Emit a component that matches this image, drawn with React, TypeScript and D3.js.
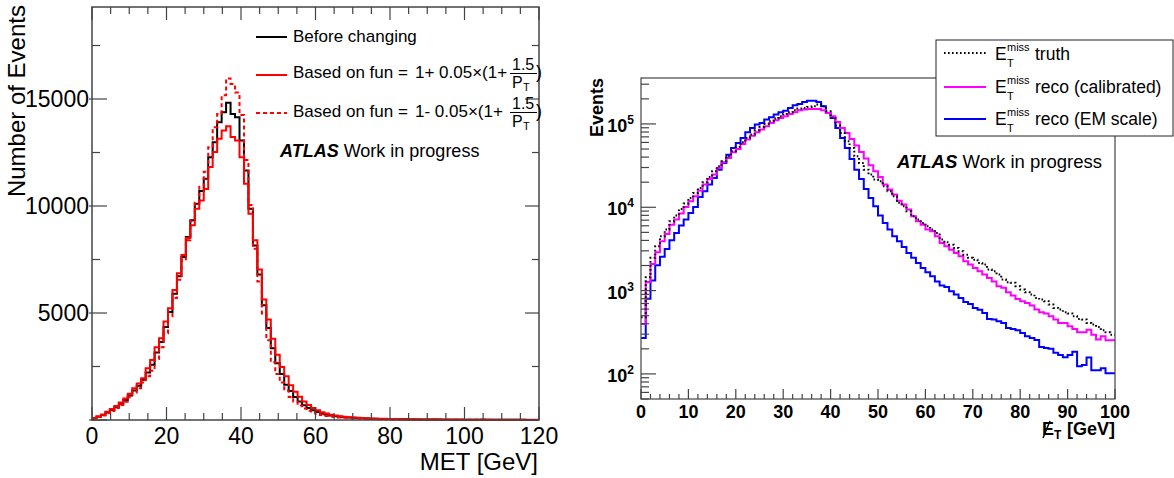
import React from "react";
import * as d3 from "d3";

const FONT = "'Liberation Sans', Arial, Helvetica, sans-serif";

// ---------- Left panel data (MET histogram, 100 bins of 1.2 GeV from 0 to 120) ----------
const metBinWidth = 1.2;
const beforeChanging = [
  80, 155, 235, 350, 470, 610, 760, 930, 1150, 1380,
  1600, 1880, 2220, 2580, 3150, 3650, 4350, 5050, 5900, 6720,
  7620, 8550, 9330, 10100, 10700, 11270, 12280, 12980, 13920, 14380,
  14820, 14300, 14150, 13060, 11660, 9870, 8150, 6800, 5365, 4300,
  3350, 2650, 2150, 1650, 1350, 1080, 860, 690, 560, 450,
  370, 305, 255, 215, 180, 155, 133, 115, 100, 88,
  78, 69, 62, 56, 50, 46, 42, 38, 35, 32,
  30, 28, 26, 24, 22, 21, 19, 18, 17, 16,
  15, 14, 13, 12, 12, 11, 10, 10, 9, 9,
  8, 8, 7, 7, 6, 6, 6, 5, 5, 5,
];
const funPlus = [
  90, 170, 260, 380, 510, 650, 820, 1000, 1230, 1480,
  1700, 1950, 2415, 2800, 3400, 3820, 4600, 5220, 6080, 6860,
  7710, 8500, 9100, 9870, 10260, 10800, 11820, 12520, 13140, 13530,
  13730, 13220, 13060, 12280, 11040, 9640, 8400, 7030, 5630, 4700,
  3800, 3050, 2480, 2050, 1620, 1320, 1090, 870, 700, 560,
  450, 365, 300, 250, 210, 178, 152, 132, 115, 101,
  89, 79, 71, 64, 58, 53, 48, 44, 41, 38,
  35, 33, 38, 29, 27, 25, 32, 23, 22, 21,
  20, 19, 18, 17, 16, 15, 14, 18, 13, 12,
  12, 11, 11, 10, 10, 9, 9, 8, 8, 8,
];
const funMinus = [
  70, 135, 205, 310, 420, 560, 700, 850, 1060, 1270,
  1480, 1750, 2050, 2300, 2850, 3400, 4050, 4850, 5700, 6550,
  7450, 8400, 9300, 10150, 10900, 11600, 12750, 13680, 14300, 15180,
  15960, 15700, 15300, 14250, 12150, 10050, 8000, 6470, 4980, 3730,
  2700, 2150, 1750, 1380, 1080, 860, 680, 540, 430, 345,
  280, 230, 190, 160, 135, 115, 100, 88, 77, 68,
  60, 53, 47, 42, 38, 34, 31, 28, 25, 23,
  21, 19, 17, 16, 15, 14, 13, 12, 11, 10,
  9, 9, 8, 8, 7, 7, 6, 6, 6, 5,
  5, 5, 4, 4, 4, 4, 3, 3, 3, 3,
];
const leftXTickLabels = [0, 20, 40, 60, 80, 100, 120];
const leftYTickLabels = [5000, 10000, 15000];

// ---------- Right panel data (ETmiss, 100 bins of 1 GeV from 0 to 100) ----------
const etBinWidth = 1;
const truth = [
  480, 1450, 2470, 3400, 4490, 5400, 6790, 7940, 9550, 11070,
  12940, 14860, 17060, 19950, 23100, 27000, 31000, 35600, 40900, 47000,
  53000, 60300, 67900, 74500, 84000, 92000, 100000, 107600, 115900, 123600,
  131800, 138000, 145900, 152800, 155600, 160000, 163000, 170600, 163000, 141900,
  118000, 95500, 78000, 61900, 51500, 40900, 34000, 28300, 24700, 21500,
  20500, 17900, 15600, 13550, 11300, 10300, 8950, 7800, 7110, 6490,
  5920, 5400, 4920, 4090, 3800, 3560, 3250, 2960, 2700, 2470,
  2350, 2150, 2050, 1790, 1710, 1560, 1360, 1260, 1240, 1130,
  1030, 955, 895, 817, 780, 745, 680, 620, 592, 550,
  530, 492, 457, 449, 409, 391, 366, 334, 316, 296,
];
const recoCalibrated = [
  398, 1270, 2090, 2880, 3910, 4790, 6190, 7110, 8390, 10090,
  11800, 13550, 15850, 18700, 21900, 24700, 29600, 34700, 39100, 45700,
  50100, 57500, 64900, 72400, 79400, 85500, 93700, 102800, 110700, 118000,
  123600, 131800, 138000, 145900, 148600, 151400, 151400, 151400, 145900, 135500,
  123600, 105700, 89500, 78000, 66000, 55000, 46000, 38500, 32000, 27000,
  23100, 18700, 16300, 14200, 12000, 10800, 9380, 7800, 6790, 6190,
  5400, 5150, 4490, 3730, 3400, 3100, 2830, 2580, 2250, 2050,
  1870, 1710, 1560, 1420, 1290, 1130, 1080, 955, 871, 794,
  745, 711, 661, 592, 550, 530, 492, 449, 409, 409,
  373, 347, 316, 316, 340, 296, 258, 283, 254, 254,
];
const recoEM = [
  270, 800, 1320, 2010, 2540, 3160, 4020, 4920, 6030, 7110,
  8550, 10090, 13300, 15560, 18700, 22500, 28300, 34000, 42800, 51500,
  59200, 67900, 79400, 89500, 98200, 102800, 112700, 120000, 129400, 138000,
  144500, 155600, 167500, 173800, 183700, 190500, 190500, 183700, 163000, 135500,
  118000, 89500, 67900, 51500, 38000, 28300, 21900, 16600, 12900, 10300,
  7940, 6490, 5400, 4490, 3910, 3340, 2830, 2470, 2150, 1870,
  1660, 1490, 1290, 1150, 1105, 980, 895, 817, 731, 692,
  619, 591, 540, 457, 449, 428, 409, 356, 347, 334,
  310, 283, 270, 255, 211, 205, 200, 179, 169, 158,
  169, 185, 124, 128, 157, 111, 111, 117, 102, 102,
];
const rightXTickLabels = [0, 10, 20, 30, 40, 50, 60, 70, 80, 90, 100];
const rightYDecades = [2, 3, 4, 5];

function histPath(
  values: number[],
  binW: number,
  x: (v: number) => number,
  y: (v: number) => number
): string {
  const pts: [number, number][] = values.map((v, i) => [i * binW, v]);
  pts.push([values.length * binW, values[values.length - 1]]);
  return (
    d3
      .line<[number, number]>()
      .x((d) => x(d[0]))
      .y((d) => y(d[1]))
      .curve(d3.curveStepAfter)(pts) || ""
  );
}

export default function App() {
  const xL = d3.scaleLinear().domain([0, 120]).range([92, 539]);
  const yL = d3.scaleLinear().domain([0, 19300]).range([420, 7]);
  const xR = d3.scaleLinear().domain([0, 100]).range([641, 1115]);
  const yR = d3.scaleLog().domain([50, 356000]).range([399, 78]).clamp(true);

  const axisColor = "#444";

  const leftXTicks = d3.range(0, 121, 5);
  const leftYTicks = d3.range(0, 19300, 2500);
  const rightXTicks = d3.range(0, 101, 2);
  const rightYTicks: { v: number; major: boolean }[] = [];
  for (let e = 1; e <= 5; e++) {
    for (let m = 1; m <= 9; m++) {
      const v = m * Math.pow(10, e);
      if (v >= 50 && v <= 356000) rightYTicks.push({ v, major: m === 1 });
    }
  }

  return (
    <svg
      width={1174}
      height={478}
      style={{ position: "absolute", left: 0, top: 0, background: "#fff" }}
      fontFamily={FONT}
    >
      <rect x={0} y={0} width={1174} height={478} fill="#fff" />

      {/* ================= LEFT PANEL ================= */}
      <g>
        <path d={histPath(beforeChanging, metBinWidth, xL, yL)} fill="none" stroke="#000" strokeWidth={2} />
        <path d={histPath(funPlus, metBinWidth, xL, yL)} fill="none" stroke="#ff0000" strokeWidth={2} />
        <path
          d={histPath(funMinus, metBinWidth, xL, yL)}
          fill="none"
          stroke="#ff0000"
          strokeWidth={2}
          strokeDasharray="4,3"
        />

        <rect
          x={xL(0)}
          y={yL.range()[1]}
          width={xL(120) - xL(0)}
          height={yL(0) - yL.range()[1]}
          fill="none"
          stroke={axisColor}
          strokeWidth={1.5}
        />
        {leftXTicks.map((t) => {
          const major = t % 20 === 0;
          const len = major ? 13 : 7;
          return (
            <g key={"lxt" + t}>
              <line x1={xL(t)} x2={xL(t)} y1={420} y2={420 - len} stroke={axisColor} strokeWidth={1.2} />
              <line x1={xL(t)} x2={xL(t)} y1={7} y2={7 + len} stroke={axisColor} strokeWidth={1.2} />
            </g>
          );
        })}
        {leftYTicks.map((t) => {
          const major = t % 5000 === 0;
          return (
            <g key={"lyt" + t}>
              <line
                x1={major ? 89 : 92}
                x2={major ? 107 : 100}
                y1={yL(t)}
                y2={yL(t)}
                stroke={axisColor}
                strokeWidth={1.2}
              />
              <line x1={539} x2={major ? 525 : 532} y1={yL(t)} y2={yL(t)} stroke={axisColor} strokeWidth={1.2} />
            </g>
          );
        })}
        {leftXTickLabels.map((t) => (
          <text key={"lxl" + t} x={xL(t)} y={444} fontSize={23} textAnchor="middle" fill="#000">
            {t}
          </text>
        ))}
        {leftYTickLabels.map((t) => (
          <text key={"lyl" + t} x={89} y={yL(t) + 8} fontSize={23} textAnchor="end" fill="#000">
            {t}
          </text>
        ))}
        <text x={538} y={470} fontSize={24} textAnchor="end" fill="#000">
          MET [GeV]
        </text>
        <text transform="translate(25,5) rotate(-90)" fontSize={24} textAnchor="end" fill="#000">
          Number of Events
        </text>

        {/* legend */}
        <line x1={256} x2={287} y1={37} y2={37} stroke="#000" strokeWidth={2} />
        <text x={293} y={42} fontSize={17} fill="#000">
          Before changing
        </text>

        <line x1={256} x2={287} y1={75} y2={75} stroke="#ff0000" strokeWidth={2} />
        <text y={78} fontSize={17} fill="#000">
          <tspan x={293}>Based on fun =</tspan>
          <tspan x={415}>1+ 0.05×(1+</tspan>
        </text>
        <text x={512} y={70} fontSize={16} fill="#000">1.5</text>
        <line x1={510} x2={537} y1={73.5} y2={73.5} stroke="#000" strokeWidth={1} />
        <text x={512} y={88} fontSize={16} fill="#000">P</text>
        <text x={523} y={91} fontSize={11} fill="#000">T</text>
        <text x={536} y={78} fontSize={18} fill="#000">)</text>

        <line x1={256} x2={287} y1={113} y2={113} stroke="#ff0000" strokeWidth={2} strokeDasharray="4,3" />
        <text y={117} fontSize={17} fill="#000">
          <tspan x={293}>Based on fun =</tspan>
          <tspan x={415}>1- 0.05×(1+</tspan>
        </text>
        <text x={512} y={109} fontSize={16} fill="#000">1.5</text>
        <line x1={510} x2={537} y1={112.5} y2={112.5} stroke="#000" strokeWidth={1} />
        <text x={512} y={127} fontSize={16} fill="#000">P</text>
        <text x={523} y={130} fontSize={11} fill="#000">T</text>
        <text x={536} y={117} fontSize={18} fill="#000">)</text>

        <text x={280} y={157} fontSize={18} fill="#000">
          <tspan fontWeight="bold" fontStyle="italic">ATLAS</tspan>
          <tspan> Work in progress</tspan>
        </text>
      </g>

      {/* ================= RIGHT PANEL ================= */}
      <g>
        <path d={histPath(recoEM, etBinWidth, xR, yR)} fill="none" stroke="#0000ff" strokeWidth={2} />
        <path d={histPath(recoCalibrated, etBinWidth, xR, yR)} fill="none" stroke="#ff00ff" strokeWidth={2} />
        <path
          d={histPath(truth, etBinWidth, xR, yR)}
          fill="none"
          stroke="#000"
          strokeWidth={2}
          strokeDasharray="1.6,2.4"
        />

        <rect
          x={xR(0)}
          y={78}
          width={xR(100) - xR(0)}
          height={399 - 78}
          fill="none"
          stroke={axisColor}
          strokeWidth={1.2}
        />
        {rightXTicks.map((t) => {
          const major = t % 10 === 0;
          return (
            <line
              key={"rxt" + t}
              x1={xR(t)}
              x2={xR(t)}
              y1={399}
              y2={399 - (major ? 10 : 5)}
              stroke={axisColor}
              strokeWidth={1.2}
            />
          );
        })}
        {rightYTicks.map((t) => (
          <line
            key={"ryt" + t.v}
            x1={641}
            x2={641 + (t.major ? 15 : 8)}
            y1={yR(t.v)}
            y2={yR(t.v)}
            stroke={axisColor}
            strokeWidth={1.2}
          />
        ))}
        {rightXTickLabels.map((t) => (
          <text key={"rxl" + t} x={xR(t)} y={418} fontSize={18} fontWeight="bold" textAnchor="middle" fill="#000">
            {t}
          </text>
        ))}
        {rightYDecades.map((e) => (
          <text
            key={"ryl" + e}
            x={634}
            y={yR(Math.pow(10, e)) + 8}
            fontSize={18}
            fontWeight="bold"
            textAnchor="end"
            fill="#000"
          >
            10
            <tspan fontSize={12} dy={-8}>
              {e}
            </tspan>
          </text>
        ))}
        <text transform="translate(603,78) rotate(-90)" fontSize={18} fontWeight="bold" textAnchor="end" fill="#000">
          Events
        </text>
        <text x={1042} y={435} fontSize={18} fontWeight="bold" fill="#000">
          E
        </text>
        <line x1={1043} y1={438} x2={1050} y2={421} stroke="#000" strokeWidth={1.5} />
        <text x={1054} y={439} fontSize={12} fontWeight="bold" fill="#000">
          T
        </text>
        <text x={1115} y={435} fontSize={18} fontWeight="bold" textAnchor="end" fill="#000">
          [GeV]
        </text>

        <text x={897} y={168} fontSize={18.5} fill="#000">
          <tspan fontWeight="bold" fontStyle="italic">ATLAS</tspan>
          <tspan> Work in progress</tspan>
        </text>

        <rect x={936} y={40} width={237} height={96} fill="#fff" stroke="#222" strokeWidth={1} />
        <line x1={944} x2={986} y1={53} y2={53} stroke="#000" strokeWidth={2} strokeDasharray="1.6,2.4" />
        <line x1={944} x2={986} y1={87} y2={87} stroke="#ff00ff" strokeWidth={2} />
        <line x1={944} x2={986} y1={119} y2={119} stroke="#0000ff" strokeWidth={2} />
        {[
          { y: 60, label: "truth" },
          { y: 92.5, label: "reco (calibrated)" },
          { y: 125, label: "reco (EM scale)" },
        ].map((r) => (
          <g key={r.label}>
            <text x={995} y={r.y} fontSize={17.5} fill="#000">
              E
            </text>
            <text x={1007} y={r.y - 9} fontSize={11} fill="#000">
              miss
            </text>
            <text x={1007} y={r.y + 7} fontSize={11} fill="#000">
              T
            </text>
            <text x={1035} y={r.y} fontSize={17.5} fill="#000">
              {r.label}
            </text>
          </g>
        ))}
      </g>
    </svg>
  );
}
